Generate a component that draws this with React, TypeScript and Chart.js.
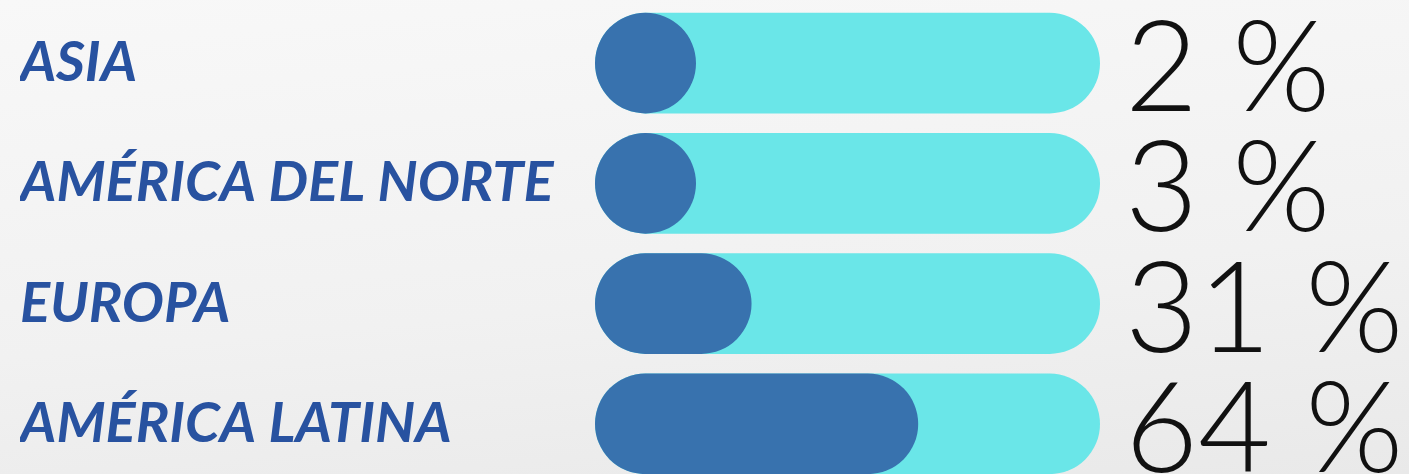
import React, { useEffect, useRef } from "react";
import { Chart, registerables } from "chart.js";

Chart.register(...registerables);

const regions = ["ASIA", "AMÉRICA DEL NORTE", "EUROPA", "AMÉRICA LATINA"];
const shares = [2, 3, 31, 64];
const trackTotals = [100, 100, 100, 100];

const labelColor = "#2852a0";
const barColor = "#3872ae";
const trackColor = "#6ae6e8";

const valueLabels = {
  id: "valueLabels",
  afterDatasetsDraw(chart: any) {
    const { ctx } = chart;
    const meta = chart.getDatasetMeta(0);
    ctx.save();
    ctx.font = "300 126px Lato";
    ctx.fillStyle = "#111111";
    ctx.textAlign = "left";
    ctx.textBaseline = "alphabetic";
    meta.data.forEach((el: any, i: number) => {
      ctx.fillText(shares[i] + " %", chart.chartArea.right + 25, el.y + 48);
    });
    ctx.restore();
  },
};

export default function App() {
  const ref = useRef<HTMLCanvasElement | null>(null);

  useEffect(() => {
    if (!ref.current) return;
    const chart = new Chart(ref.current, {
      type: "bar",
      data: {
        labels: regions,
        datasets: [
          {
            data: shares,
            backgroundColor: barColor,
            borderRadius: 60,
            borderSkipped: false,
            minBarLength: 101,
            barPercentage: 1,
            categoryPercentage: 0.836,
            grouped: false,
            order: 0,
          },
          {
            data: trackTotals,
            backgroundColor: trackColor,
            borderRadius: 60,
            borderSkipped: false,
            barPercentage: 1,
            categoryPercentage: 0.836,
            grouped: false,
            order: 1,
          },
        ],
      },
      options: {
        indexAxis: "y",
        animation: false,
        responsive: true,
        maintainAspectRatio: false,
        layout: { padding: { left: 20, right: 309, top: 3, bottom: 6 } },
        plugins: { legend: { display: false }, tooltip: { enabled: false } },
        scales: {
          x: { type: "linear", min: 0, max: 100, display: false },
          y: {
            type: "category",
            grid: { display: false },
            border: { display: false },
            afterFit(scale: any) {
              scale.width = 575;
              scale.paddingTop = 0;
              scale.paddingBottom = 0;
            },
            ticks: {
              crossAlign: "far",
              padding: 0,
              color: labelColor,
              font: { family: "Lato", size: 56, weight: "bold", style: "italic" },
            },
          },
        },
      },
      plugins: [valueLabels],
    });
    return () => chart.destroy();
  }, []);

  return (
    <div
      style={{
        position: "fixed",
        left: 0,
        top: 0,
        width: 1409,
        height: 474,
        overflow: "hidden",
        background: "linear-gradient(175deg, #f8f8f8 0%, #f1f1f1 60%, #e9e9e9 100%)",
      }}
    >
      <div style={{ position: "relative", width: 1409, height: 490 }}>
        <canvas ref={ref} />
      </div>
    </div>
  );
}
